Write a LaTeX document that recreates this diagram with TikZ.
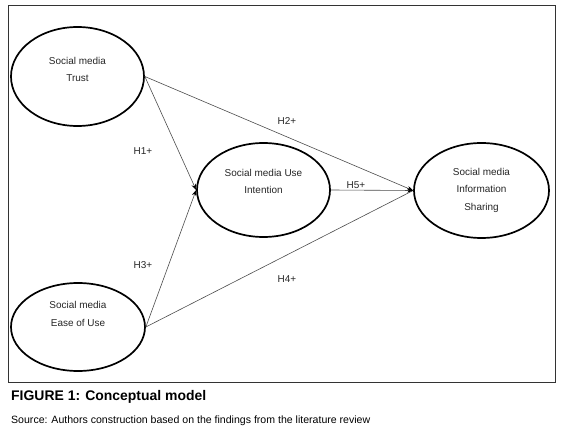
\documentclass[tikz,border=0pt]{standalone}
\usepackage{fontspec}
\setmainfont{Liberation Sans}
\usetikzlibrary{shapes.geometric,arrows.meta}
\begin{document}
\begin{tikzpicture}[x=1bp,y=-1bp,
  construct/.style={draw=black,line width=1.7bp,ellipse,inner sep=0pt},
  ctext/.style={align=center,font=\fontsize{10}{17.5}\selectfont,text=black!85,inner sep=0pt},
  hlabel/.style={font=\fontsize{10}{12}\selectfont,text=black!85,inner sep=0pt},
  link/.style={draw=black!70,line width=0.6bp},
  arrowlink/.style={link,-{Stealth[length=6bp,width=4.5bp,black]}}]
\useasboundingbox (0,0) rectangle (580,434);
\draw[black!80,line width=0.8bp] (8,5) rectangle (555,382);
% constructs
\node[construct,minimum width=133bp,minimum height=99bp] (trust) at (77.5,76.5) {};
\node[construct,minimum width=133bp,minimum height=94bp] (use) at (263.5,190) {};
\node[construct,minimum width=135bp,minimum height=95bp] (info) at (481.5,190.5) {};
\node[construct,minimum width=134bp,minimum height=88bp] (ease) at (78,327) {};
% texts
\node[ctext] (ttrust) at (77.5,69.5) {Social media\\Trust};
\node[ctext] (tuse) at (263.5,181.5) {Social media Use\\Intention};
\node[ctext] (tinfo) at (481.5,190) {Social media\\Information\\Sharing};
\node[ctext] (tease) at (78,314) {Social media\\Ease of Use};
% connectors
\draw[arrowlink] (trust.east) -- (use.west);
\draw[arrowlink] (trust.east) -- (info.west);
\draw[arrowlink] (ease.east) -- (use.west);
\draw[link] (ease.east) -- (info.west);
\draw[arrowlink] (use.east) -- (info.west);
% labels
\node[hlabel] (h1) at (143,151) {H1+};
\node[hlabel] (h2) at (287,121) {H2+};
\node[hlabel] (h3) at (143,265) {H3+};
\node[hlabel] (h4) at (287,279) {H4+};
\node[hlabel] (h5) at (356,185) {H5+};
% caption
\node[anchor=west,inner sep=0pt,font=\fontsize{14}{16}\selectfont\bfseries] (cap) at (11,397) {FIGURE 1: Conceptual model};
\node[anchor=west,inner sep=0pt,font=\fontsize{10.6}{12}\selectfont] (src) at (11,421) {Source: Authors construction based on the findings from the literature review};
\end{tikzpicture}
\end{document}
